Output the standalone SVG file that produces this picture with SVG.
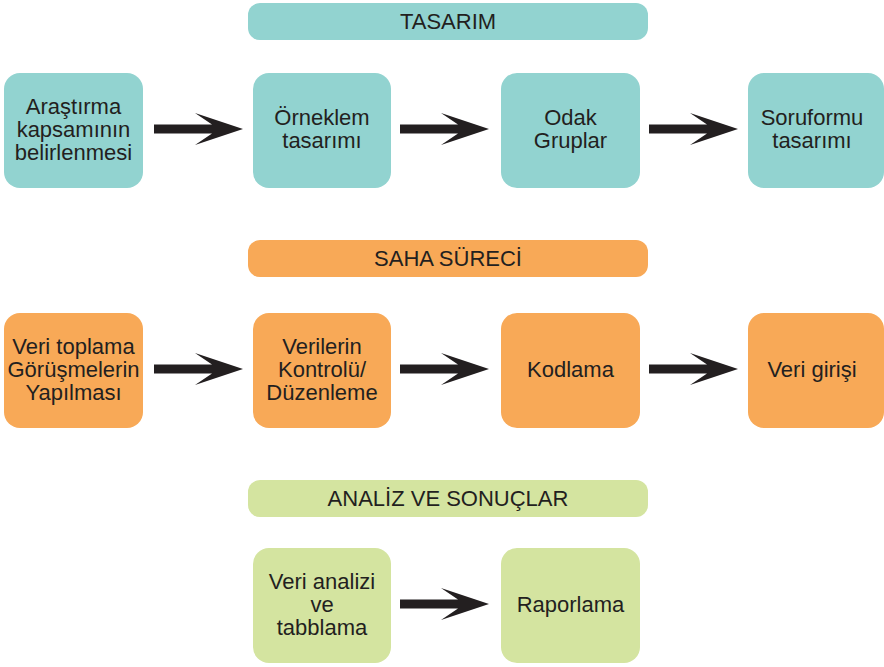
<svg xmlns="http://www.w3.org/2000/svg" xmlns:xlink="http://www.w3.org/1999/xlink" width="884" height="667" viewBox="0 0 884 667">
<style>
text{font-family:"Liberation Sans",Arial,Helvetica,sans-serif;font-size:22px;fill:#231f20;text-anchor:middle}
.t{fill:#92d3d0}
.o{fill:#f8a957}
.g{fill:#d4e4a0}
</style>
<defs>
<path id="arrow" d="M-89,-4.5 L-31,-4.5 L-48,-16 L0,0 L-48,16 L-31,4.5 L-89,4.5 Z" fill="#231f20"/>
</defs>
<rect width="884" height="667" fill="#ffffff"/>

<g id="h-tasarim"><rect class="t" x="248" y="3" width="400" height="37" rx="12"/><text x="448" y="29">TASARIM</text></g>
<g id="n1"><rect class="t" x="4" y="73" width="139" height="115" rx="16"/><text x="73.5" y="114">Araştırma</text><text x="73.5" y="137">kapsamının</text><text x="73.5" y="160">belirlenmesi</text></g>
<g id="n2"><rect class="t" x="253" y="73" width="138" height="115" rx="16"/><text x="322" y="125">Örneklem</text><text x="322" y="148">tasarımı</text></g>
<g id="n3"><rect class="t" x="501" y="73" width="139" height="115" rx="16"/><text x="570.5" y="125">Odak</text><text x="570.5" y="148">Gruplar</text></g>
<g id="n4"><rect class="t" x="748" y="73" width="136" height="115" rx="16"/><text x="812" y="125">Soruformu</text><text x="812" y="148">tasarımı</text></g>

<g id="h-saha"><rect class="o" x="248" y="240" width="400" height="37" rx="12"/><text x="448" y="266">SAHA SÜRECİ</text></g>
<g id="n5"><rect class="o" x="4" y="313" width="139" height="115" rx="16"/><text x="73.5" y="354">Veri toplama</text><text x="73.5" y="377">Görüşmelerin</text><text x="73.5" y="400">Yapılması</text></g>
<g id="n6"><rect class="o" x="253" y="313" width="138" height="115" rx="16"/><text x="322" y="354">Verilerin</text><text x="322" y="377">Kontrolü/</text><text x="322" y="400">Düzenleme</text></g>
<g id="n7"><rect class="o" x="501" y="313" width="139" height="115" rx="16"/><text x="570.5" y="377">Kodlama</text></g>
<g id="n8"><rect class="o" x="748" y="313" width="136" height="115" rx="16"/><text x="812" y="377">Veri girişi</text></g>

<g id="h-analiz"><rect class="g" x="248" y="480" width="400" height="37" rx="12"/><text x="448" y="506">ANALİZ VE SONUÇLAR</text></g>
<g id="n9"><rect class="g" x="253" y="548" width="138" height="115" rx="16"/><text x="322" y="589">Veri analizi</text><text x="322" y="612">ve</text><text x="322" y="635">tabblama</text></g>
<g id="n10"><rect class="g" x="501" y="548" width="139" height="115" rx="16"/><text x="570.5" y="612">Raporlama</text></g>

<g id="connectors">
<use xlink:href="#arrow" transform="translate(243,129)"/>
<use xlink:href="#arrow" transform="translate(489,129)"/>
<use xlink:href="#arrow" transform="translate(738,129)"/>
<use xlink:href="#arrow" transform="translate(243,369)"/>
<use xlink:href="#arrow" transform="translate(489,369)"/>
<use xlink:href="#arrow" transform="translate(738,369)"/>
<use xlink:href="#arrow" transform="translate(489,604)"/>
</g>
</svg>
